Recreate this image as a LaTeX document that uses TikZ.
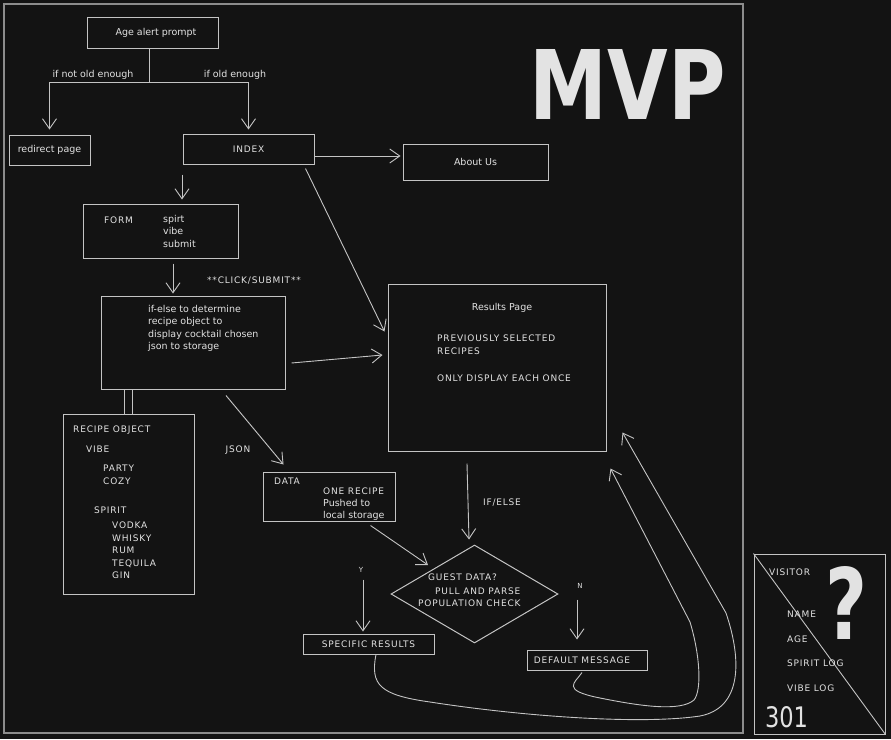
\documentclass[tikz,border=0pt]{standalone}
\usepackage{fontspec}
\setmainfont{DejaVu Sans}
\newfontfamily\capsfont[LetterSpace=9]{DejaVu Sans}
\usetikzlibrary{arrows.meta,shapes.geometric,calc}
\definecolor{bgc}{HTML}{131313}
\definecolor{lnc}{HTML}{C4C4C4}
\definecolor{fgc}{HTML}{E2E2E2}
\definecolor{frm}{HTML}{8C8C8C}
\begin{document}
\begin{tikzpicture}[x=1pt,y=-1pt,
  box/.style={draw=lnc,line width=1pt,inner sep=0pt,text=fgc,font=\fontsize{9.5}{10}\selectfont},
  capbox/.style={box,font=\capsfont\fontsize{9}{10}\selectfont},
  lbl/.style={text=fgc,inner sep=0pt,font=\fontsize{9.5}{12.5}\selectfont,align=left},
  capl/.style={lbl,font=\capsfont\fontsize{9}{12.5}\selectfont},
  arr/.style={draw=lnc,line width=0.9pt,-{Straight Barb[length=10pt,width=14pt]}},
  plain/.style={draw=lnc,line width=0.9pt}]
\fill[bgc] (0,0) rectangle (891,739);
\useasboundingbox (0,0) rectangle (891,739);
% frame
\draw[frm,line width=1.8pt] (4,4) rectangle (743,733);
% boxes
\node[box,minimum width=131pt,minimum height=31pt] (age) at (152.5,32.5) {\hspace*{7pt}Age alert prompt};
\node[box,minimum width=81pt,minimum height=30pt] (redirect) at (49.5,150) {redirect page};
\node[capbox,minimum width=131pt,minimum height=30pt] (index) at (248.5,149) {INDEX};
\node[box,minimum width=145pt,minimum height=36pt] (about) at (475.5,162) {About Us};
\node[box,minimum width=155pt,minimum height=54pt] (form) at (160.5,231) {};
\node[box,minimum width=184pt,minimum height=93pt] (ifelse) at (193,342.5) {};
\node[box,minimum width=131pt,minimum height=180pt] (recipe) at (128.5,504) {};
\node[box,minimum width=132pt,minimum height=49pt] (data) at (329,496.5) {};
\node[box,minimum width=218pt,minimum height=167pt] (results) at (497,367.5) {};
\node[draw=lnc,line width=1pt,diamond,minimum width=167pt,minimum height=98pt,inner sep=0pt] (dia) at (474.5,594) {};
\node[capbox,minimum width=131pt,minimum height=20pt] (specific) at (368.5,644) {SPECIFIC RESULTS};
\node[capbox,minimum width=120pt,minimum height=20pt] (default) at (587,660) {\hspace*{-10pt}DEFAULT MESSAGE};
\node[box,minimum width=131pt,minimum height=180pt] (visitor) at (819.5,644) {};
\draw[plain] (visitor.north west) -- (visitor.south east);
% texts
\node[lbl] (tnot) at (93,75) {if not old enough};
\node[lbl] (told) at (235,75) {if old enough};
\node[capl,anchor=west] (tform) at (104,220) {FORM};
\node[lbl,anchor=north west] (tformlist) at (163,215) {spirt\\vibe\\submit};
\node[capl] (tclick) at (254,281) {**CLICK/SUBMIT**};
\node[lbl,anchor=north west] (tifelse) at (148,305) {if-else to determine\\recipe object to\\display cocktail chosen\\json to storage};
\node[capl,anchor=west] (trec) at (73,430) {RECIPE OBJECT};
\node[capl,anchor=west] (tvibe) at (86,449) {VIBE};
\node[capl,anchor=north west] (tvibes) at (103,465) {PARTY\\COZY};
\node[capl,anchor=west] (tspirit) at (94,510) {SPIRIT};
\node[capl,anchor=north west] (tspirits) at (112,522) {VODKA\\WHISKY\\RUM\\TEQUILA\\GIN};
\node[capl] (tjson) at (238,450) {JSON};
\node[capl,anchor=west] (tdata) at (274,481) {DATA};
\node[capl,anchor=west] (tdata1) at (323,491) {ONE RECIPE};
\node[lbl,anchor=north west] (tdatal) at (323,499) {Pushed to\\local storage};
\node[lbl] (tres) at (502,308) {Results Page};
\node[capl,anchor=north west] (tprev) at (437,335) {PREVIOUSLY SELECTED\\RECIPES};
\node[capl,anchor=west] (tonly) at (437,378) {ONLY DISPLAY EACH ONCE};
\node[capl] (tifel) at (502,503) {IF/ELSE};
\node[capl,anchor=west] (tg1) at (428,577) {GUEST DATA?};
\node[capl,anchor=west] (tg2) at (435,591) {PULL AND PARSE};
\node[capl,anchor=west] (tg3) at (418,603) {POPULATION CHECK};
\node[lbl,font=\fontsize{7}{8}\selectfont] (ty) at (361,570) {Y};
\node[lbl,font=\fontsize{7}{8}\selectfont] (tn) at (580,586) {N};
\node[capl,anchor=west] (tv1) at (769,572) {VISITOR};
\node[capl,anchor=west] (tv2) at (787,614) {NAME};
\node[capl,anchor=west] (tv3) at (787,639) {AGE};
\node[capl,anchor=west] (tv4) at (787,663) {SPIRIT LOG};
\node[capl,anchor=west] (tv5) at (787,688) {VIBE LOG};
\node[text=fgc,inner sep=0pt] (t301) at (786.5,717.5) {\resizebox{43pt}{21pt}{301}};
\node[text=fgc,inner sep=0pt] (tq) at (846.5,603) {\resizebox{42pt}{73pt}{\bfseries ?}};
\node[text=fgc!95!white,inner sep=0pt] (tmvp) at (628,84) {\resizebox{196pt}{70pt}{\bfseries MVP}};
% connectors
\coordinate (split) at (149,82);
\coordinate (c182) at (182,0);
\coordinate (c173) at (173,0);
\draw[plain] (age.south -| split) -- (split);
\draw[arr,shorten >=5pt] (split) -| (redirect.north);
\draw[arr,shorten >=4pt] (split) -| (index.north);
\draw[arr] ([yshift=-7pt]index.east) -- ([xshift=-2pt,yshift=6pt]about.west);
\draw[arr,shorten <=10pt,shorten >=4pt] (index.south -| c182) -- (form.north -| c182);
\draw[arr,shorten <=5pt,shorten >=2pt] (form.south -| c173) -- (ifelse.north -| c173);
\draw[arr] ([xshift=6pt,yshift=-20.5pt]ifelse.east) -- ([xshift=-5pt,yshift=12.5pt]results.west);
\draw[arr] ([xshift=-9pt,yshift=-4pt]index.south east) -- ([xshift=-3pt,yshift=-48pt]results.north west);
\draw[plain] ([xshift=-4.5pt]recipe.north) -- ([xshift=-4.5pt]recipe.north |- ifelse.south);
\draw[plain] ([xshift=3.5pt]recipe.north) -- ([xshift=3.5pt]recipe.north |- ifelse.south);
\draw[arr] ([xshift=33pt,yshift=-6pt]ifelse.south) -- ([xshift=21pt,yshift=7pt]data.north west);
\draw[arr] ([xshift=-30pt,yshift=-12pt]results.south) -- ([xshift=-5.5pt,yshift=5pt]dia.north);
\draw[arr] ([xshift=-25pt,yshift=-4pt]data.south east) -- ([xshift=-46.5pt,yshift=29pt]dia.center);
\draw[arr] ([xshift=-5.5pt,yshift=54pt]specific.north) -- ([xshift=-5.5pt,yshift=2pt]specific.north);
\draw[arr] ([xshift=-10pt,yshift=50pt]default.north) -- ([xshift=-10pt,yshift=10pt]default.north);
\draw[arr] ([xshift=7.5pt]specific.south) .. controls (370,685) and (380,695) .. (430,702)
  .. controls (520,716) and (640,725) .. (700,716)
  .. controls (742,708) and (742,660) .. (726,613) -- ([xshift=16pt,yshift=19pt]results.south east);
\draw[arr] ([xshift=-5pt,yshift=-2pt]default.south) .. controls (575,683) and (560,690) .. (600,698)
  .. controls (640,706) and (680,712) .. (694,700)
  .. controls (702,690) and (700,655) .. (690,622) -- ([xshift=4pt,yshift=-17pt]results.south east);
\end{tikzpicture}
\end{document}
